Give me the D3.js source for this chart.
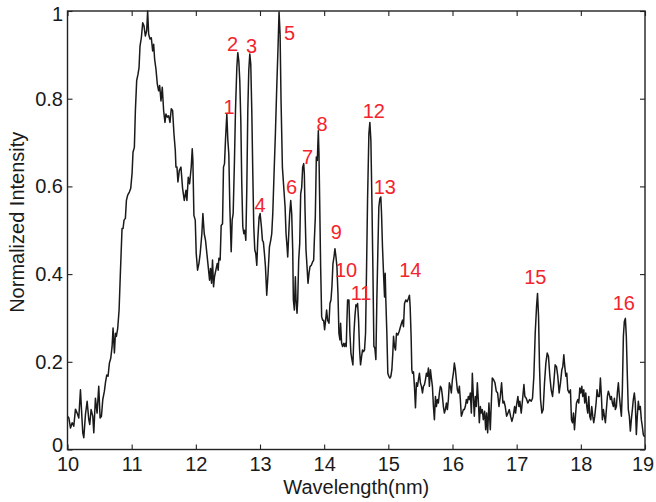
<!DOCTYPE html>
<html>
<head>
<meta charset="utf-8">
<script src="https://cdn.jsdelivr.net/npm/d3@7"></script>
<style>
  html, body { margin: 0; padding: 0; background: #fff; }
  svg { display: block; }
  text { font-family: "Liberation Sans", Arial, Helvetica, sans-serif; }
</style>
</head>
<body>
<div id="chart"></div>
<script>
// ---- Data ----
const wavelength = [
10.000,10.021,10.047,10.073,10.098,10.124,10.150,10.176,10.202,10.218,10.238,10.254,10.280,10.306,10.332,10.347,10.368,10.394,10.410,10.435,
10.461,10.487,10.508,10.529,10.550,10.575,10.591,10.612,10.632,10.653,10.674,10.695,10.710,10.731,10.747,10.762,10.783,10.804,10.824,10.850,
10.866,10.881,10.902,10.918,10.938,10.964,10.985,11.006,11.021,11.042,11.058,11.078,11.099,11.115,11.130,11.151,11.172,11.192,11.213,11.234,
11.249,11.265,11.286,11.306,11.327,11.343,11.358,11.379,11.400,11.420,11.436,11.457,11.477,11.498,11.519,11.534,11.555,11.576,11.597,11.617,
11.638,11.659,11.680,
11.690,11.706,11.721,11.742,11.768,11.794,11.820,11.846,11.861,11.882,11.903,11.928,11.944,11.954,11.970,11.991,12.006,12.027,12.048,12.068,
12.094,12.110,12.131,12.151,12.172,12.193,12.214,12.229,12.245,12.260,12.276,12.291,12.312,12.333,12.348,12.359,12.379,12.395,12.416,12.431,
12.447,12.462,12.483,12.499,12.514,12.530,12.551,12.566,12.582,12.602,12.618,12.639,12.654,12.670,12.685,12.701,12.716,12.732,12.748,12.763,
12.779,12.794,12.810,12.825,12.841,12.856,12.872,12.888,12.903,12.919,12.934,12.950,12.965,12.986,13.002,13.022,13.038,13.053,13.069,13.085,
13.105,13.126,13.147,13.167,13.183,13.199,13.219,13.240,13.261,13.281,
13.297,13.313,13.328,13.349,13.370,13.391,13.406,13.422,13.432,13.448,13.463,13.479,13.494,13.510,13.520,13.536,13.551,13.562,13.577,13.588,
13.603,13.619,13.634,13.650,13.665,13.681,13.691,13.702,13.717,13.733,13.748,13.764,13.779,13.800,13.821,13.836,13.847,13.862,13.878,13.893,
13.909,13.919,13.930,13.945,13.961,13.976,13.992,14.007,14.023,14.038,14.054,14.075,14.090,14.106,14.121,14.137,14.153,14.168,14.184,14.199,
14.215,14.230,14.246,14.256,14.272,14.287,14.303,14.318,14.329,14.344,14.355,14.365,14.386,14.401,14.417,14.433,14.448,14.464,14.479,14.495,
14.510,14.521,14.536,14.552,14.567,14.583,14.598,14.614,14.629,14.645,14.661,14.676,14.697,14.712,14.728,14.744,14.759,14.775,14.790,14.806,
14.821,14.837,14.852,14.868,14.883,
14.894,14.909,14.925,14.941,14.951,14.961,14.977,14.992,15.008,15.024,15.039,15.055,15.070,15.081,15.096,15.112,15.127,15.148,15.169,15.189,
15.205,15.221,15.236,15.252,15.272,15.293,15.314,15.329,15.340,15.355,15.366,15.376,15.392,15.407,15.423,15.438,15.454,15.469,15.485,15.500,
15.516,15.532,15.547,15.563,15.578,15.594,15.609,15.625,15.640,15.656,15.671,15.687,15.703,15.718,15.734,15.749,15.765,15.780,15.796,15.811,
15.827,15.843,15.858,15.874,15.889,15.905,15.920,15.936,15.951,15.967,15.982,15.998,16.014,16.029,16.045,16.060,16.076,16.091,16.107,16.122,
16.138,16.154,16.169,16.185,16.200,16.216,16.231,16.247,16.262,16.278,16.294,16.309,16.325,16.340,16.356,16.371,16.387,16.402,16.418,16.434,
16.449,16.465,16.480,16.496,
16.501,16.517,16.532,16.548,16.568,16.589,16.605,16.620,16.641,16.662,16.682,16.703,16.724,16.745,16.765,16.786,16.802,16.822,16.843,16.864,
16.885,16.905,16.926,16.947,16.968,16.983,16.999,17.019,17.035,17.050,17.071,17.092,17.113,17.128,17.149,17.175,17.201,17.227,17.247,17.268,
17.289,17.310,17.325,17.341,17.356,17.372,17.393,17.413,17.434,17.455,17.476,17.496,17.517,17.538,17.559,17.579,17.600,17.621,17.641,17.662,
17.683,17.704,17.719,17.735,17.750,17.766,17.781,17.797,17.818,17.838,17.854,17.870,17.885,17.901,17.916,17.932,17.953,17.968,17.984,17.999,
18.015,18.030,18.046,18.061,18.077,18.093,18.108,18.124,18.139,18.155,18.170,18.186,18.201,18.217,18.238,18.253,18.269,18.289,18.305,18.321,
18.336,18.352,18.367,18.383,18.398,18.414,18.429,18.445,18.461,18.476,18.492,18.507,18.523,18.538,18.554,18.569,18.585,18.601,18.616,18.632,
18.647,18.663,18.678,18.694,18.709,18.725,18.740,18.756,18.772,18.787,18.803,18.818,18.834,18.849,18.865,18.880,18.896,18.912,18.927,18.943,
18.958,18.974,18.989,19.000
];
const intensity = [
0.076,0.072,0.049,0.061,0.053,0.092,0.083,0.072,0.136,0.091,0.038,0.027,0.080,0.110,0.068,0.057,0.091,0.076,0.038,0.117,
0.083,0.144,0.072,0.076,0.114,0.133,0.152,0.170,0.167,0.197,0.208,0.235,0.277,0.220,0.265,0.258,0.277,0.318,0.402,0.504,
0.504,0.523,0.527,0.568,0.580,0.587,0.595,0.629,0.678,0.689,0.773,0.841,0.856,0.871,0.920,0.939,0.973,0.966,0.943,0.955,
1.000,0.947,0.936,0.939,0.909,0.924,0.890,0.867,0.833,0.818,0.830,0.795,0.826,0.773,0.746,0.765,0.758,0.761,0.746,0.777,
0.773,0.720,0.682,
0.644,0.644,0.610,0.636,0.644,0.595,0.568,0.591,0.568,0.621,0.606,0.644,0.686,0.659,0.534,0.523,0.447,0.409,0.424,0.447,
0.492,0.538,0.492,0.477,0.447,0.417,0.386,0.413,0.379,0.432,0.371,0.394,0.409,0.424,0.409,0.436,0.432,0.511,0.515,0.644,
0.652,0.705,0.765,0.705,0.674,0.553,0.451,0.523,0.538,0.659,0.773,0.871,0.905,0.886,0.841,0.750,0.606,0.508,0.492,0.500,
0.477,0.591,0.773,0.864,0.902,0.879,0.773,0.629,0.508,0.455,0.447,0.420,0.477,0.530,0.538,0.508,0.477,0.473,0.447,0.417,
0.352,0.402,0.462,0.477,0.492,0.538,0.629,0.720,0.826,0.917,
0.998,0.947,0.795,0.644,0.598,0.553,0.492,0.462,0.439,0.492,0.538,0.568,0.538,0.455,0.341,0.318,0.394,0.341,0.311,0.341,
0.432,0.470,0.583,0.598,0.644,0.652,0.629,0.545,0.455,0.417,0.379,0.402,0.417,0.420,0.428,0.432,0.477,0.530,0.667,0.659,
0.727,0.674,0.568,0.417,0.303,0.295,0.295,0.273,0.295,0.318,0.295,0.288,0.333,0.341,0.371,0.424,0.439,0.458,0.439,0.417,
0.356,0.265,0.250,0.288,0.242,0.235,0.242,0.235,0.242,0.235,0.295,0.341,0.341,0.265,0.220,0.205,0.193,0.265,0.303,0.330,
0.326,0.333,0.295,0.227,0.193,0.212,0.227,0.223,0.227,0.265,0.417,0.568,0.720,0.746,0.705,0.568,0.417,0.235,0.231,0.205,
0.341,0.455,0.553,0.572,0.576,
0.538,0.462,0.402,0.348,0.402,0.341,0.265,0.174,0.167,0.163,0.167,0.182,0.220,0.258,0.235,0.227,0.265,0.261,0.269,0.280,
0.288,0.295,0.280,0.333,0.341,0.337,0.345,0.352,0.326,0.258,0.182,0.174,0.177,0.144,0.095,0.152,0.144,0.159,0.174,0.152,
0.144,0.129,0.144,0.148,0.159,0.174,0.167,0.186,0.144,0.182,0.163,0.144,0.098,0.068,0.121,0.098,0.114,0.106,0.129,0.144,
0.140,0.121,0.098,0.083,0.091,0.106,0.091,0.114,0.152,0.144,0.129,0.159,0.174,0.197,0.182,0.159,0.136,0.129,0.144,0.114,
0.076,0.083,0.091,0.091,0.098,0.114,0.106,0.121,0.114,0.129,0.083,0.174,0.121,0.076,0.121,0.098,0.152,0.114,0.061,0.098,
0.083,0.091,0.068,0.083,
0.087,0.045,0.083,0.038,0.106,0.045,0.106,0.163,0.159,0.152,0.133,0.129,0.098,0.121,0.152,0.106,0.110,0.098,0.076,0.083,
0.091,0.076,0.064,0.076,0.098,0.083,0.102,0.121,0.098,0.110,0.083,0.114,0.148,0.121,0.117,0.106,0.114,0.110,0.117,0.167,
0.265,0.326,0.356,0.303,0.189,0.114,0.083,0.091,0.152,0.197,0.220,0.212,0.167,0.136,0.121,0.152,0.193,0.189,0.167,0.129,
0.152,0.182,0.189,0.216,0.189,0.167,0.174,0.136,0.129,0.136,0.068,0.061,0.083,0.045,0.076,0.106,0.114,0.106,0.140,0.129,
0.144,0.121,0.136,0.106,0.129,0.098,0.083,0.121,0.076,0.068,0.098,0.076,0.061,0.076,0.106,0.136,0.121,0.121,0.163,0.121,
0.068,0.091,0.076,0.061,0.091,0.121,0.133,0.125,0.114,0.121,0.106,0.098,0.117,0.091,0.098,0.129,0.152,0.121,0.098,0.076,
0.136,0.258,0.292,0.299,0.258,0.167,0.091,0.076,0.042,0.068,0.091,0.114,0.129,0.106,0.034,0.076,0.110,0.091,0.098,0.068,
0.053,0.034,0.030,0.030
];

const peakLabels = ["1","2","3","4","5","6","7","8","9","10","11","12","13","14","15","16"];
const peakLabelX = [12.519,12.574,12.869,13.002,13.460,13.491,13.740,13.966,14.191,14.342,14.575,14.774,14.946,15.342,17.291,18.670];
const peakLabelY = [0.766,0.909,0.905,0.542,0.934,0.582,0.650,0.727,0.480,0.393,0.341,0.757,0.582,0.393,0.377,0.318];

const xTicks = [10,11,12,13,14,15,16,17,18,19];
const yTicks = [0,0.2,0.4,0.6,0.8,1];
const yTickLabels = ["0","0.2","0.4","0.6","0.8","1"];
const xLabel = "Wavelength(nm)";
const yLabel = "Normalized Intensity";

// ---- Layout ----
const W = 656, H = 502;
const mLeft = 67.5, mRight = 645, mTop = 11, mBottom = 449.5;

const svg = d3.select("#chart").append("svg").attr("width", W).attr("height", H);

const x = d3.scaleLinear().domain([10, 19]).range([mLeft, mRight]);
const y = d3.scaleLinear().domain([0, 1]).range([mBottom, mTop]);

const n = Math.min(wavelength.length, intensity.length);
const points = wavelength.slice(0, n).map((w, i) => [w, intensity[i]]);

// curve
svg.append("path")
  .datum(points)
  .attr("fill", "none")
  .attr("stroke", "#1a1a1a")
  .attr("stroke-width", 1.5)
  .attr("stroke-linejoin", "round")
  .attr("d", d3.line().x(d => x(d[0])).y(d => y(d[1])));

// axes
const fontSize = 20;
const gx = svg.append("g").attr("transform", `translate(0,${mBottom})`)
  .call(d3.axisBottom(x).tickValues(xTicks).tickFormat(d3.format("d")).tickSize(-5).tickSizeOuter(0).tickPadding(7.5));
const gxTop = svg.append("g").attr("transform", `translate(0,${mTop})`)
  .call(d3.axisTop(x).tickValues(xTicks).tickFormat("").tickSize(-5).tickSizeOuter(0));
const gy = svg.append("g").attr("transform", `translate(${mLeft},0)`)
  .call(d3.axisLeft(y).tickValues(yTicks).tickFormat((d, i) => yTickLabels[i]).tickSize(-5).tickSizeOuter(0).tickPadding(4.5));
const gyRight = svg.append("g").attr("transform", `translate(${mRight},0)`)
  .call(d3.axisRight(y).tickValues(yTicks).tickFormat("").tickSize(-5).tickSizeOuter(0));

[gx, gxTop, gy, gyRight].forEach(g => {
  g.select(".domain").remove();
  g.selectAll(".tick line").attr("stroke", "#222").attr("stroke-width", 1.1);
  g.selectAll(".tick text").attr("fill", "#1a1a1a").style("font-size", fontSize + "px")
    .style("font-family", '"Liberation Sans", Arial, sans-serif');
});
// end labels nudged inward as in the reference
gy.selectAll(".tick text").filter(d => d === 1).attr("transform", "translate(0,3.5)");
gy.selectAll(".tick text").filter(d => d === 0).attr("transform", "translate(0,-4)");
gx.selectAll(".tick text").filter(d => d === 19).attr("transform", "translate(-2.5,0)");

// frame
svg.append("rect")
  .attr("x", mLeft).attr("y", mTop)
  .attr("width", mRight - mLeft).attr("height", mBottom - mTop)
  .attr("fill", "none").attr("stroke", "#222").attr("stroke-width", 1.4);

// axis titles
svg.append("text")
  .attr("x", (mLeft + mRight) / 2).attr("y", 494)
  .attr("text-anchor", "middle")
  .style("font-size", fontSize + "px").attr("fill", "#1a1a1a")
  .text(xLabel);
svg.append("text")
  .attr("transform", `translate(24,${(mTop + mBottom) / 2 - 8}) rotate(-90)`)
  .attr("text-anchor", "middle")
  .style("font-size", fontSize + "px").attr("fill", "#1a1a1a")
  .text(yLabel);

// peak labels
svg.append("g").selectAll("text")
  .data(peakLabels)
  .join("text")
  .attr("x", (d, i) => x(peakLabelX[i]))
  .attr("y", (d, i) => y(peakLabelY[i]))
  .attr("text-anchor", "middle")
  .style("font-size", fontSize + "px")
  .attr("fill", "#f2242c")
  .text(d => d);
</script>
</body>
</html>
